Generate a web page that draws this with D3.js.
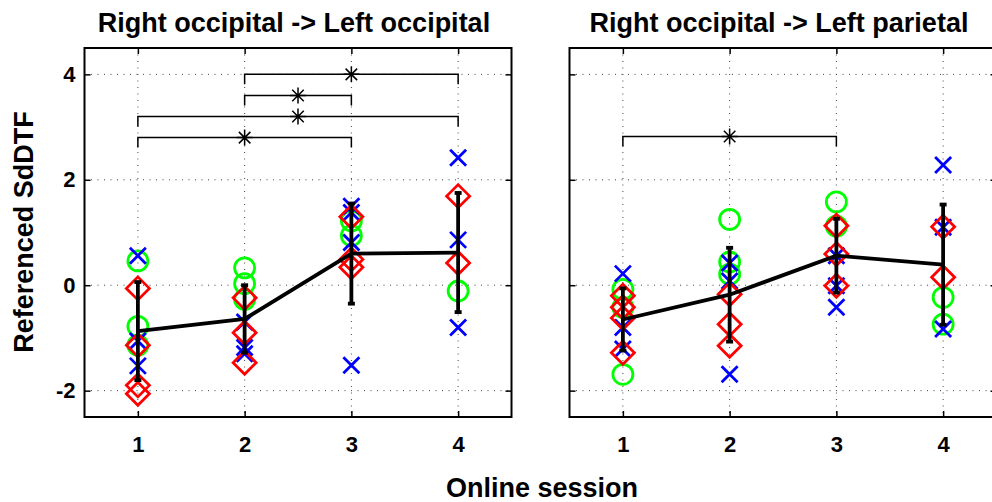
<!DOCTYPE html>
<html>
<head>
<meta charset="utf-8">
<title>Referenced SdDTF by online session</title>
<script src="https://cdn.jsdelivr.net/npm/d3@7"></script>
<style>
  body { margin: 0; background: #fff; }
  text { font-family: "Liberation Sans", Arial, sans-serif; font-weight: bold; fill: #000; }
</style>
</head>
<body>
<svg id="chart" width="992" height="502"></svg>
<script>
// data
sessions = [1, 2, 3, 4];
yTicks = [-2, 0, 2, 4];
titles = ["Right occipital -> Left occipital", "Right occipital -> Left parietal"];

// right occipital -> left occipital, one inner list per session
occGreen = [[0.46, -0.78, -1.14], [0.33, 0.03, -0.27], [1.22, 0.94], [-0.11]];
occBlue = [[0.56, -1.06, -1.53], [-0.7, -1.18, -1.3], [1.5, 1.38, 0.81, -1.52], [2.42, 0.86, -0.8]];
occRed = [[-0.06, -1.14, -1.9, -2.06], [-0.24, -0.9, -1.47], [1.3, 0.49, 0.34], [1.69, 0.42]];
occMean = [-0.87, -0.64, 0.6, 0.62];
occErr = [0.93, 0.64, 0.95, 1.13];
occSig = [[1, 3, 2.8], [1, 4, 3.2], [2, 3, 3.6], [2, 4, 4.0]];

// right occipital -> left parietal
parGreen = [[-0.08, -0.42, -1.69], [1.25, 0.44, 0.21], [1.58, 1.12], [-0.23, -0.74]];
parBlue = [[0.22, -0.8, -1.21], [0.42, 0.08, -1.69], [0.56, -0.01, -0.42], [2.28, 1.1, -0.83]];
parRed = [[-0.2, -0.42, -0.62, -1.28], [-0.17, -0.74, -1.15], [1.13, 0.59, -0.01], [1.11, 0.15]];
parMean = [-0.65, -0.18, 0.56, 0.39];
parErr = [0.59, 0.89, 0.7, 1.14];
parSig = [[1, 3, 2.82]];

panels = [
  { title: titles[0], green: occGreen, blue: occBlue, red: occRed, mean: occMean, err: occErr, sig: occSig, left: 84.5, labels: true },
  { title: titles[1], green: parGreen, blue: parBlue, red: parRed, mean: parMean, err: parErr, sig: parSig, left: 569.5, labels: false }
];

// layout
svg = d3.select("#chart");
panelWidth = 427;
plotTop = 48;
plotBottom = 417;

y = d3.scaleLinear().domain([-2.5, 4.5]).range([plotBottom, plotTop]);

panels.forEach(drawPanel);

function drawPanel(p) {
  let x = d3.scaleLinear().domain([0.5, 4.5]).range([p.left, p.left + panelWidth]);
  let g = svg.append("g");

  // dotted grid
  g.selectAll(".gx").data(sessions).enter().append("line")
    .attr("x1", d => x(d)).attr("x2", d => x(d))
    .attr("y1", plotTop).attr("y2", plotBottom)
    .style("stroke", "#444").style("stroke-width", 1).style("stroke-dasharray", "1,5.5");
  g.selectAll(".gy").data(yTicks).enter().append("line")
    .attr("x1", p.left).attr("x2", p.left + panelWidth)
    .attr("y1", d => y(d)).attr("y2", d => y(d))
    .style("stroke", "#444").style("stroke-width", 1).style("stroke-dasharray", "1,5.5");

  // axes with inward ticks
  let axB = g.append("g").attr("transform", "translate(0," + plotBottom + ")")
    .call(d3.axisBottom(x).tickValues(sessions).tickSize(-6).tickPadding(19).tickFormat(d => String(d)));
  let axT = g.append("g").attr("transform", "translate(0," + plotTop + ")")
    .call(d3.axisTop(x).tickValues(sessions).tickSize(-6).tickFormat(""));
  let axL = g.append("g").attr("transform", "translate(" + p.left + ",0)")
    .call(d3.axisLeft(y).tickValues(yTicks).tickSize(-6).tickPadding(9).tickFormat(d => p.labels ? String(d) : ""));
  let axR = g.append("g").attr("transform", "translate(" + (p.left + panelWidth) + ",0)")
    .call(d3.axisRight(y).tickValues(yTicks).tickSize(-6).tickFormat(""));
  [axB, axT, axL, axR].forEach(a => {
    a.select(".domain").remove();
    a.selectAll(".tick line").style("stroke", "#000").style("stroke-width", 1.5);
    a.selectAll("text").style("font-size", "22px").style("font-family", null);
  });

  // box
  g.append("rect")
    .attr("x", p.left).attr("y", plotTop)
    .attr("width", panelWidth).attr("height", plotBottom - plotTop)
    .style("fill", "none").style("stroke", "#000").style("stroke-width", 2);

  // title
  g.append("text")
    .attr("x", p.left + panelWidth / 2 - 4).attr("y", 32)
    .attr("text-anchor", "middle")
    .style("font-size", "27px")
    .text(p.title);

  // significance brackets
  p.sig.forEach(s => {
    let drop = 10;
    g.append("path")
      .attr("d", "M" + x(s[0]) + "," + (y(s[2]) + drop) + "V" + y(s[2]) + "H" + x(s[1]) + "V" + (y(s[2]) + drop))
      .style("fill", "none").style("stroke", "#000").style("stroke-width", 1.5);
    star(g, x((s[0] + s[1]) / 2), y(s[2]), 8, "#000", 1.5);
  });

  // subject markers
  sessions.forEach((s, i) => {
    p.green[i].forEach(v => {
      g.append("circle").attr("cx", x(s)).attr("cy", y(v)).attr("r", 10)
        .style("fill", "none").style("stroke", "#00ff00").style("stroke-width", 2.8);
    });
    p.blue[i].forEach(v => {
      let cx = x(s), cy = y(v), r = 8;
      g.append("path")
        .attr("d", "M" + (cx - r) + "," + (cy - r) + "L" + (cx + r) + "," + (cy + r) + "M" + (cx - r) + "," + (cy + r) + "L" + (cx + r) + "," + (cy - r))
        .style("stroke", "#0000ff").style("stroke-width", 2.8);
    });
    p.red[i].forEach(v => {
      let cx = x(s), cy = y(v), r = 11.5;
      g.append("path")
        .attr("d", "M" + cx + "," + (cy - r) + "L" + (cx + r) + "," + cy + "L" + cx + "," + (cy + r) + "L" + (cx - r) + "," + cy + "Z")
        .style("fill", "none").style("stroke", "#ff0000").style("stroke-width", 2.8);
    });
  });

  // error bars
  sessions.forEach((s, i) => {
    let lo = y(p.mean[i] - p.err[i]), hi = y(p.mean[i] + p.err[i]);
    g.append("line").attr("x1", x(s)).attr("x2", x(s)).attr("y1", lo).attr("y2", hi)
      .style("stroke", "#000").style("stroke-width", 3.8);
    [lo, hi].forEach(c => {
      g.append("line").attr("x1", x(s) - 3.5).attr("x2", x(s) + 3.5).attr("y1", c).attr("y2", c)
        .style("stroke", "#000").style("stroke-width", 3.8);
    });
  });

  // mean line
  g.append("path")
    .datum(sessions)
    .attr("d", d3.line().x(d => x(d)).y((d, i) => y(p.mean[i])))
    .style("fill", "none").style("stroke", "#000").style("stroke-width", 3.8);
}

function star(g, cx, cy, r, colour, w) {
  let d = "M" + (cx - r) + "," + cy + "H" + (cx + r) +
    "M" + cx + "," + (cy - r) + "V" + (cy + r);
  let k = r * 0.72;
  d += "M" + (cx - k) + "," + (cy - k) + "L" + (cx + k) + "," + (cy + k) +
    "M" + (cx - k) + "," + (cy + k) + "L" + (cx + k) + "," + (cy - k);
  g.append("path").attr("d", d).style("stroke", colour).style("stroke-width", w);
}

// shared labels
svg.append("text")
  .attr("x", 542).attr("y", 497)
  .attr("text-anchor", "middle")
  .style("font-size", "27px")
  .text("Online session");

svg.append("text")
  .attr("transform", "translate(33,232) rotate(-90)")
  .attr("text-anchor", "middle")
  .style("font-size", "27px")
  .text("Referenced SdDTF");
</script>
</body>
</html>
